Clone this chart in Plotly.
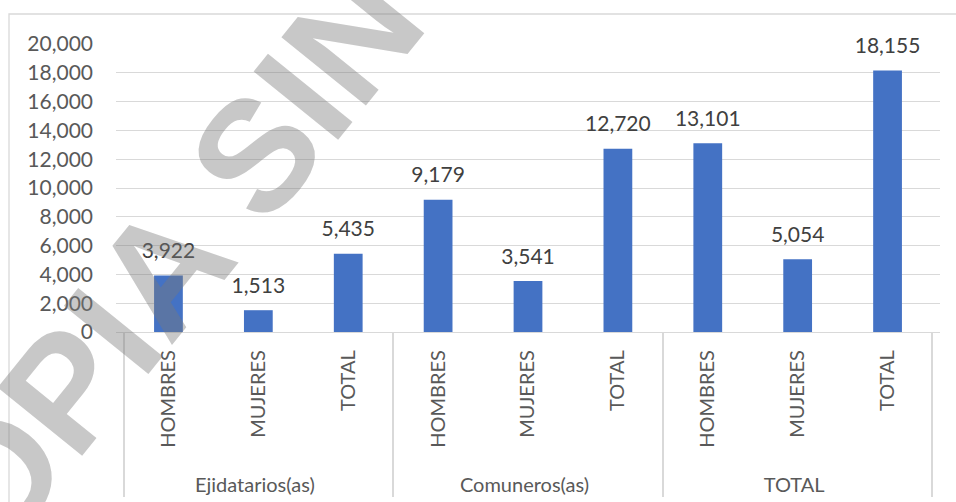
import plotly.graph_objects as go

grupos = ["Ejidatarios(as)"] * 3 + ["Comuneros(as)"] * 3 + ["TOTAL"] * 3
sexo = ["HOMBRES", "MUJERES", "TOTAL"] * 3
valores = [3922, 1513, 5435, 9179, 3541, 12720, 13101, 5054, 18155]

W, H = 956, 502
L, R, T, B = 116, 16, 44, 170
PW, PH = W - L - R, H - T - B

# espacios duros para bajar las etiquetas de grupo
sexo_eje = ["\u00a0" * 3 + s for s in sexo]

fig = go.Figure()
fig.add_trace(go.Bar(x=[grupos, sexo_eje], y=valores, marker=dict(color="#4472c4", line=dict(width=0)),
                     hoverinfo="x+y"))
# etiquetas de datos
fig.add_trace(go.Scatter(x=[grupos, sexo_eje], y=valores, mode="markers+text",
                         text=[f"{v:,}" for v in valores], textposition="top center",
                         marker=dict(size=18, opacity=0), cliponaxis=False,
                         textfont=dict(family="Lato", size=21, color="#404040"),
                         hoverinfo="skip", showlegend=False))

fig.update_layout(
    width=W, height=H, margin=dict(l=L, r=R, t=T, b=B),
    paper_bgcolor="white", plot_bgcolor="white",
    showlegend=False, bargap=0.68,
    font=dict(family="Lato", size=21, color="#595959"),
    xaxis=dict(type="multicategory", tickangle=-90, showline=True, linecolor="#d9d9d9", linewidth=1.3,
               showdividers=True, dividercolor="#d9d9d9", dividerwidth=1.5,
               ticks="", automargin=False, tickfont=dict(size=20), ticklabelstandoff=9),
    yaxis=dict(range=[0, 20000], dtick=2000, tickformat=",", gridcolor="#d9d9d9", gridwidth=1.3,
               zeroline=False, showline=False, ticks="", automargin=False, ticklabelstandoff=22),
)

# borde del área del gráfico
fig.add_shape(type="rect", xref="paper", yref="paper",
              x0=(9 - L) / PW, x1=(W + 10 - L) / PW,
              y0=-(B + 10) / PH, y1=(H - 14 - B) / PH,
              line=dict(color="#d9d9d9", width=1.3), layer="below")

# marca de agua
fig.add_annotation(text="<b>COPIA SIN</b>", xref="paper", yref="paper",
                   x=(136 - L) / PW, y=(H - B - 302) / PH,
                   xanchor="center", yanchor="middle",
                   showarrow=False, textangle=-51,
                   font=dict(family="Liberation Sans", size=158, color="rgba(121,121,121,0.41)"))

fig.write_html("out.html", config={"displayModeBar": False},
               post_script="document.body.style.margin='0';")
